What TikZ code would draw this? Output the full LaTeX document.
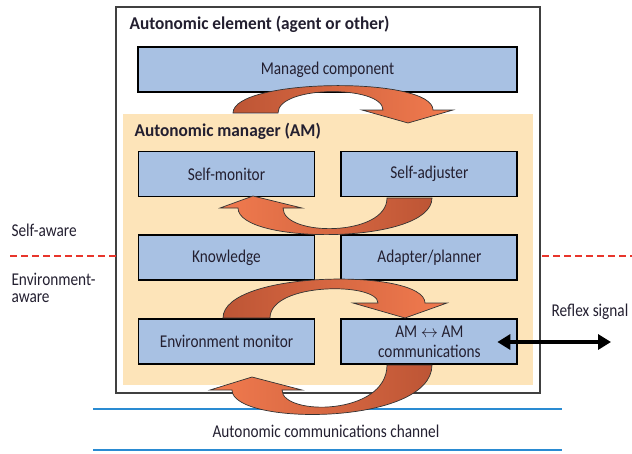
\documentclass[tikz,border=0pt]{standalone}
\usepackage{fontspec}
\setmainfont{Carlito}[FakeStretch=0.85]
\newfontfamily\titlefont{Carlito}[FakeStretch=0.96]
\usetikzlibrary{positioning,arrows.meta}
\definecolor{boxblue}{HTML}{A8C1E3}
\definecolor{ambg}{HTML}{FDE4B9}
\definecolor{turndark}{HTML}{BD5535}
\definecolor{turnlight}{HTML}{F27B4F}
\definecolor{awarered}{HTML}{E8352B}
\definecolor{chanblue}{HTML}{2A8BD2}
\definecolor{ink}{HTML}{231F30}

\begin{document}
\begin{tikzpicture}[x=1pt,y=-1pt,
    font=\fontsize{18}{17}\selectfont, text=ink,
    box/.style={draw=black,fill=boxblue,line width=1.9pt,minimum width=176pt,minimum height=45pt,inner sep=0pt},
    title/.style={anchor=west,font=\fontsize{18}{17}\selectfont\titlefont\bfseries},
    turnleft/.style={draw=black!80,line width=0.7pt,left color=turndark,right color=turnlight},
    turnright/.style={draw=black!80,line width=0.7pt,left color=turnlight,right color=turndark},
    aware/.style={awarered,line width=2pt,dash pattern=on 7pt off 4pt},
    channel/.style={chanblue,line width=2.4pt}]
    \useasboundingbox (0,0) rectangle (632,453);

    % containers
    \draw[black!75,line width=1.5pt,fill=white] (116,7) rectangle (540,393);
    \fill[ambg] (123,114) rectangle (533,385);
    \node[title] (elemtitle) at (126,24) {Autonomic element (agent or other)};
    \node[title] (amtitle) at (131,131) {Autonomic manager (AM)};

    % boxes
    \node[box,minimum width=379pt] (managed) at (327.5,69.5) {Managed component};
    \node[box] (selfmon) at (226.5,174) {Self-monitor};
    \node[box] (selfadj) [right=25pt of selfmon] {Self-adjuster};
    \node[box] (knowledge) [below=37pt of selfmon] {Knowledge};
    \node[box] (planner) [right=25pt of knowledge] {Adapter/planner};
    \node[box] (envmon) [below=37pt of knowledge] {Environment monitor};
    \node[box,align=center,font=\fontsize{18}{20}\selectfont] (amcomm) [right=25pt of envmon] {AM $\leftrightarrow$ AM\\communications};

    % awareness split
    \draw[aware] (10,256) -- (116,256);
    \draw[aware] (542,256) -- (632,256);
    \node[anchor=west] (selfaware) at (8,230) {Self-aware};
    \node[anchor=north west,align=left] (envaware) at (8,270) {Environment-\\aware};

    % channel
    \draw[channel] (93,409) -- (562,409);
    \draw[channel] (93,450) -- (562,450);
    \node (chan) at (326,431) {Autonomic communications channel};

    % reflex signal
    \node (reflexlbl) at (590,312) {Reflex signal};
    \coordinate (reflex) at (611,342);
    \draw[black,line width=3.5pt,{Triangle[length=13pt,width=15pt]}-{Triangle[length=13pt,width=15pt]}]
        ([xshift=-21pt]amcomm.east |- reflex) -- (reflex);

    % loops
    \path[turnleft] (233,113) .. controls (233,78) and (433,76) .. (433,110)
        -- (453,110) -- (408,123) -- (362,110) -- (383,110)
        .. controls (383,85) and (278,85) .. (278,113) -- cycle;
    \path[turnright] (432,198) .. controls (432,245) and (238,245) .. (238,208)
        -- (220,208) -- (253,196) -- (302,208) -- (283,208)
        .. controls (283,237) and (387,237) .. (387,198) -- cycle;
    \path[turnleft] (223,318) .. controls (223,270) and (425,268) .. (425,303)
        -- (447,303) -- (405,318) -- (353,303) -- (378,303)
        .. controls (378,282) and (270,282) .. (270,318) -- cycle;
    \path[turnright] (432,365) .. controls (432,426) and (232,426) .. (232,390)
        -- (210,390) -- (252,377) -- (302,390) -- (282,390)
        .. controls (282,416) and (387,416) .. (387,365) -- cycle;
\end{tikzpicture}
\end{document}
